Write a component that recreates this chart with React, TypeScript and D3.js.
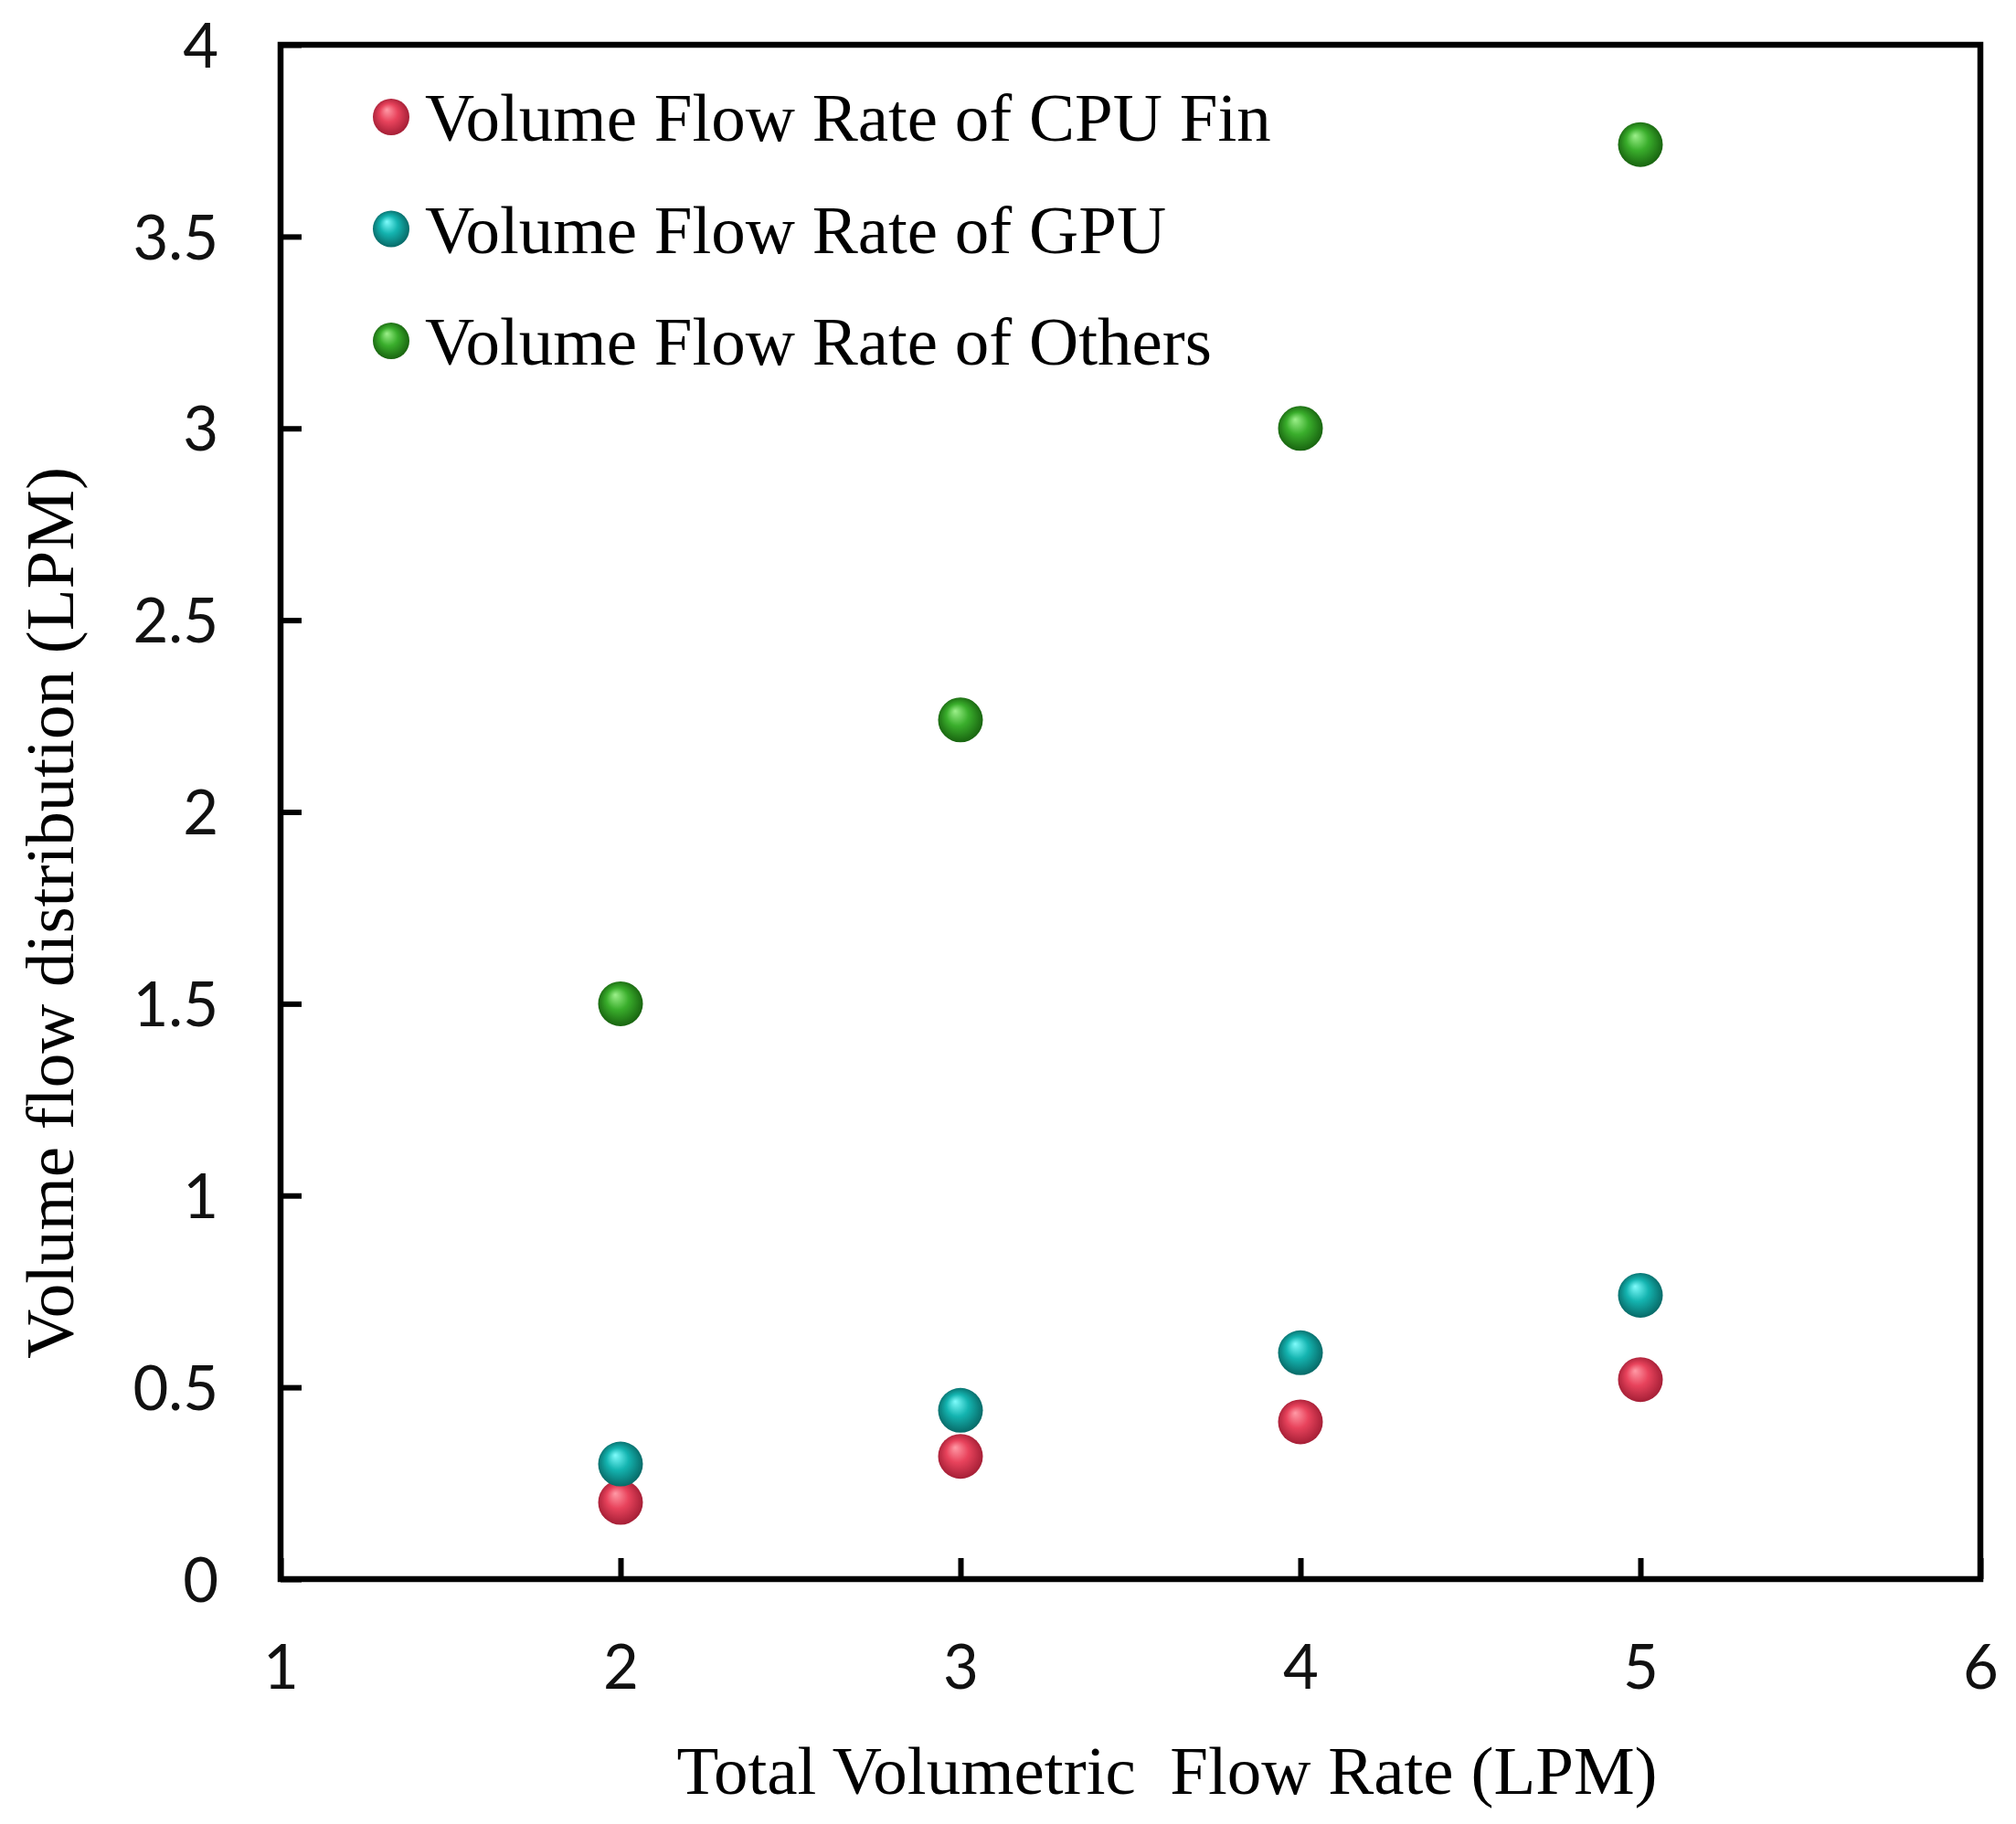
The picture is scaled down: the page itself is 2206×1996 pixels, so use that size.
import { useEffect, useRef } from 'react'
import * as d3 from 'd3'

const TOTAL_FLOW = [2, 3, 4, 5]
const CPU_FIN = [0.2, 0.32, 0.41, 0.52]
const GPU = [0.3, 0.44, 0.59, 0.74]
const OTHERS = [1.5, 2.24, 3.0, 3.74]

const X_TICKS = [1, 2, 3, 4, 5, 6]
const Y_TICKS = [0, 0.5, 1, 1.5, 2, 2.5, 3, 3.5, 4]

const SERIES_NAMES = [
  'Volume Flow Rate of CPU Fin',
  'Volume Flow Rate of GPU',
  'Volume Flow Rate of Others',
]

const X_TITLE = 'Total Volumetric  Flow Rate (LPM)'
const Y_TITLE = 'Volume flow distribution (LPM)'

// sphere shading: highlight, body, rim
const SPHERE_COLORS = [
  ['#ff9aa6', '#e8435c', '#9c1a31'],
  ['#7ffcfc', '#14b4b0', '#06605e'],
  ['#9cf08a', '#3aae2c', '#145a0c'],
]

const W = 2206
const H = 1996
const margin = { top: 49, right: 39, bottom: 268, left: 307 }

export default function App() {
  const svgRef = useRef<SVGSVGElement>(null)

  useEffect(() => {
    const svgEl = svgRef.current
    if (!svgEl) return
    const svg = d3.select(svgEl)
    svg.selectAll('*').remove()

    const innerW = W - margin.left - margin.right
    const innerH = H - margin.top - margin.bottom

    const x = d3.scaleLinear().domain([1, 6]).range([0, innerW])
    const y = d3.scaleLinear().domain([0, 4]).range([innerH, 0])

    const defs = svg.append('defs')
    SPHERE_COLORS.forEach((c, i) => {
      const grad = defs.append('radialGradient')
        .attr('id', `sphere-${i}`)
        .attr('cx', '50%').attr('cy', '50%').attr('r', '55%')
        .attr('fx', '38%').attr('fy', '30%')
      grad.append('stop').attr('offset', '0%').attr('stop-color', c[0])
      grad.append('stop').attr('offset', '45%').attr('stop-color', c[1])
      grad.append('stop').attr('offset', '100%').attr('stop-color', c[2])
    })

    const g = svg.append('g').attr('transform', `translate(${margin.left},${margin.top})`)

    const tickFont = 'Lato, "Open Sans", sans-serif'
    const serifFont = '"Liberation Serif", "Times New Roman", serif'

    // Axes with inward ticks
    const xAxisG = g.append('g').attr('transform', `translate(0,${innerH})`).call(
      d3.axisBottom(x).tickValues(X_TICKS).tickSize(-23).tickSizeOuter(0).tickPadding(72)
        .tickFormat(d => String(d))
    )
    const yAxisG = g.append('g').call(
      d3.axisLeft(y).tickValues(Y_TICKS).tickSize(-23).tickSizeOuter(0).tickPadding(68)
        .tickFormat(d => d3.format('~g')(d as number))
    )
    ;[xAxisG, yAxisG].forEach(ax => {
      ax.select('.domain').remove()
      ax.selectAll('.tick line').attr('stroke', '#000').attr('stroke-width', 6)
      ax.selectAll('.tick text')
        .attr('fill', '#111')
        .style('font-size', '67px')
        .style('font-family', tickFont)
    })
    yAxisG.selectAll('.tick text').attr('dy', '0.36em')

    // Frame
    g.append('rect')
      .attr('x', 0).attr('y', 0)
      .attr('width', innerW).attr('height', innerH)
      .attr('fill', 'none')
      .attr('stroke', '#000')
      .attr('stroke-width', 6.5)

    // Points
    const series = [CPU_FIN, GPU, OTHERS]
    series.forEach((vals, si) => {
      vals.forEach((v, i) => {
        g.append('circle')
          .attr('cx', x(TOTAL_FLOW[i])).attr('cy', y(v))
          .attr('r', 24.5)
          .attr('fill', `url(#sphere-${si})`)
      })
    })

    // Legend
    SERIES_NAMES.forEach((name, i) => {
      const cy = 128 + i * 122.5
      svg.append('circle')
        .attr('cx', 428).attr('cy', cy)
        .attr('r', 20)
        .attr('fill', `url(#sphere-${i})`)
      svg.append('text')
        .attr('x', 465).attr('y', cy + 26)
        .attr('fill', '#000')
        .style('font-size', '75px')
        .style('font-family', serifFont)
        .text(name)
    })

    // Axis titles
    svg.append('text')
      .attr('x', 1277).attr('y', 1963)
      .attr('text-anchor', 'middle')
      .attr('fill', '#000')
      .style('font-size', '75px')
      .style('font-family', serifFont)
      .style('white-space', 'pre')
      .text(X_TITLE)

    svg.append('text')
      .attr('transform', `translate(80,999) rotate(-90)`)
      .attr('text-anchor', 'middle')
      .attr('fill', '#000')
      .style('font-size', '75px')
      .style('font-family', serifFont)
      .text(Y_TITLE)
  }, [])

  return (
    <svg
      ref={svgRef}
      width={W}
      height={H}
      style={{ position: 'absolute', left: 0, top: 0, background: '#fff', display: 'block' }}
    />
  )
}
